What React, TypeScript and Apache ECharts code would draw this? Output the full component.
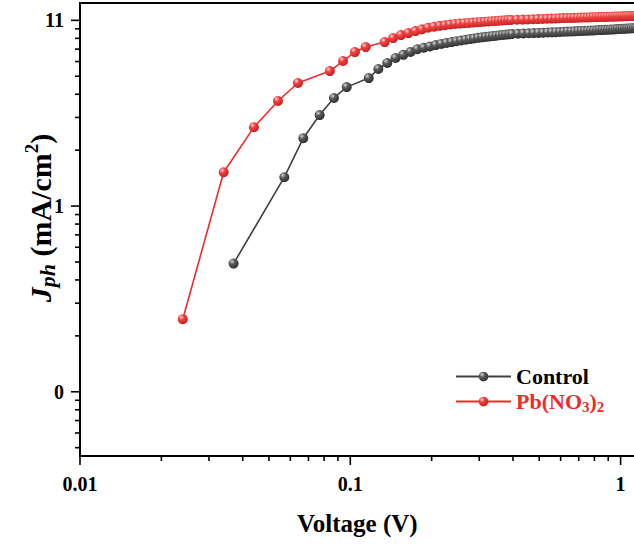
import { useEffect, useRef } from "react";
import * as echarts from "echarts";

// ---- data ----
const controlV = [
  0.037, 0.057, 0.067, 0.077, 0.087, 0.097, 0.117, 0.127, 0.137, 0.147, 0.157, 0.167, 0.177, 0.187,
  0.197, 0.207, 0.217, 0.227, 0.237, 0.247, 0.257, 0.267, 0.277, 0.287, 0.297, 0.307, 0.317, 0.327,
  0.337, 0.347, 0.357, 0.367, 0.377, 0.387, 0.397, 0.417, 0.437, 0.457, 0.477, 0.497, 0.517, 0.537,
  0.557, 0.577, 0.597, 0.617, 0.637, 0.657, 0.677, 0.697, 0.717, 0.737, 0.757, 0.777, 0.797, 0.817,
  0.837, 0.857, 0.877, 0.897, 0.917, 0.937, 0.957, 0.977, 0.997, 1.017, 1.037, 1.057, 1.077, 1.097,
  1.117, 1.137, 1.157, 1.177,
];
const controlJ = [
  0.49, 1.43, 2.32, 3.09, 3.82, 4.37, 4.89, 5.47, 5.89, 6.27, 6.52, 6.76, 6.99, 7.12,
  7.24, 7.36, 7.47, 7.56, 7.64, 7.72, 7.79, 7.86, 7.93, 7.99, 8.05, 8.1, 8.15, 8.19,
  8.23, 8.27, 8.31, 8.35, 8.38, 8.41, 8.44, 8.47, 8.5, 8.52, 8.54, 8.56, 8.58, 8.6,
  8.62, 8.64, 8.66, 8.68, 8.7, 8.72, 8.73, 8.75, 8.77, 8.78, 8.8, 8.81, 8.83, 8.85,
  8.86, 8.88, 8.89, 8.91, 8.92, 8.94, 8.95, 8.97, 8.98, 9.0, 9.01, 9.03, 9.04, 9.06,
  9.07, 9.08, 9.09, 9.1,
];
const pbV = [
  0.024, 0.034, 0.044, 0.054, 0.064, 0.084, 0.094, 0.104, 0.114, 0.134, 0.144, 0.154, 0.164, 0.174,
  0.184, 0.194, 0.204, 0.214, 0.224, 0.234, 0.244, 0.254, 0.264, 0.274, 0.284, 0.294, 0.304, 0.314,
  0.324, 0.334, 0.344, 0.354, 0.364, 0.374, 0.384, 0.394, 0.414, 0.434, 0.454, 0.474, 0.494, 0.514,
  0.534, 0.554, 0.574, 0.594, 0.614, 0.634, 0.654, 0.674, 0.694, 0.714, 0.734, 0.754, 0.774, 0.794,
  0.814, 0.834, 0.854, 0.874, 0.894, 0.914, 0.934, 0.954, 0.974, 0.994, 1.014, 1.034, 1.054, 1.074,
  1.094, 1.114, 1.134, 1.154, 1.174,
];
const pbJ = [
  0.246, 1.52, 2.66, 3.68, 4.6, 5.33, 6.04, 6.75, 7.18, 7.64, 8.03, 8.33, 8.54, 8.75,
  8.95, 9.12, 9.24, 9.34, 9.42, 9.5, 9.56, 9.61, 9.65, 9.69, 9.73, 9.77, 9.8, 9.83,
  9.86, 9.89, 9.92, 9.95, 9.98, 10.01, 10.03, 10.05, 10.08, 10.1, 10.12, 10.14, 10.16, 10.18,
  10.2, 10.22, 10.24, 10.26, 10.28, 10.29, 10.31, 10.32, 10.34, 10.35, 10.36, 10.37, 10.38, 10.39,
  10.4, 10.42, 10.43, 10.44, 10.45, 10.46, 10.47, 10.48, 10.49, 10.5, 10.51, 10.52, 10.53, 10.54,
  10.55, 10.56, 10.57, 10.58, 10.59,
];

const seriesNames = ["Control", "Pb(NO3)2"];
const xTitle = "Voltage (V)";

const xTickValues = [0.01, 0.1, 1];
const xTickLabels = ["0.01", "0.1", "1"];
const xMinorTicks = [0.02, 0.03, 0.04, 0.05, 0.06, 0.07, 0.08, 0.09, 0.2, 0.3, 0.4, 0.5, 0.6, 0.7, 0.8, 0.9];
const yTickValues = [0.1, 1, 10];
const yTickLabels = ["0", "1", "11"];
const yMinorTicks = [0.05, 0.06, 0.07, 0.08, 0.09, 0.2, 0.3, 0.4, 0.5, 0.6, 0.7, 0.8, 0.9, 2, 3, 4, 5, 6, 7, 8, 9];

const X_MIN = 0.01;
const X_MAX = 1.2;
const Y_MIN = 0.0451;
const Y_MAX = 12.4;

const FONT = "'Liberation Serif', 'Times New Roman', serif";

function labelFor(values: number[], labels: string[], v: number) {
  for (let i = 0; i < values.length; i++) {
    if (Math.abs(Math.log10(v) - Math.log10(values[i])) < 1e-6) return labels[i];
  }
  return "";
}

const zip = (a: number[], b: number[]) => a.map((v, i) => [v, b[i]]);

const grayBall = {
  type: "radial",
  x: 0.35,
  y: 0.3,
  r: 0.75,
  colorStops: [
    { offset: 0, color: "#d8d8d8" },
    { offset: 0.35, color: "#5c5c5c" },
    { offset: 1, color: "#2a2a2a" },
  ],
};
const redBall = {
  type: "radial",
  x: 0.35,
  y: 0.3,
  r: 0.75,
  colorStops: [
    { offset: 0, color: "#ffd6d6" },
    { offset: 0.35, color: "#f04444" },
    { offset: 1, color: "#c01c1c" },
  ],
};

export default function App() {
  const ref = useRef<HTMLDivElement>(null);
  useEffect(() => {
    const chart = echarts.init(ref.current!, null, { renderer: "svg" });

    const tickData: number[][] = [
      ...xTickValues.map((v) => [v, Y_MIN, 0, 1]),
      ...xMinorTicks.map((v) => [v, Y_MIN, 0, 0]),
      ...yTickValues.map((v) => [X_MIN, v, 1, 1]),
      ...yMinorTicks.map((v) => [X_MIN, v, 1, 0]),
    ];

    const option: any = {
      animation: false,
      backgroundColor: "#fff",
      grid: {
        left: 80,
        top: 3,
        right: -8,
        bottom: 89,
        containLabel: false,
        outerBoundsMode: "none",
        show: true,
        borderColor: "#000",
        borderWidth: 2,
        backgroundColor: "transparent",
      },
      legend: {
        orient: "vertical",
        left: 450,
        top: 359,
        itemWidth: 55,
        itemHeight: 12,
        itemGap: 0,
        data: [
          { name: seriesNames[0], textStyle: { color: "#000" } },
          { name: seriesNames[1], textStyle: { color: "#ee2a2a" } },
        ],
        formatter: (name: string) => (name === seriesNames[1] ? "Pb(NO{s|3}){s|2}" : name),
        textStyle: {
          fontFamily: FONT,
          fontWeight: "bold",
          fontSize: 22,
          lineHeight: 25,
          rich: {
            s: {
              fontFamily: FONT,
              fontWeight: "bold",
              fontSize: 15,
              lineHeight: 12,
              verticalAlign: "bottom",
            },
          },
        },
      },
      xAxis: {
        type: "log",
        logBase: 10,
        min: X_MIN,
        max: X_MAX,
        splitLine: { show: false },
        axisTick: { show: false },
        axisLine: { show: true, lineStyle: { color: "#000", width: 2 } },
        axisLabel: {
          margin: 18,
          color: "#000",
          fontFamily: FONT,
          fontWeight: "bold",
          fontSize: 20,
          formatter: (v: number) => labelFor(xTickValues, xTickLabels, v),
        },
      },
      yAxis: {
        type: "log",
        logBase: 10,
        min: Y_MIN,
        max: Y_MAX,
        splitLine: { show: false },
        axisTick: { show: false },
        axisLine: { show: true, lineStyle: { color: "#000", width: 2 } },
        axisLabel: {
          margin: 16,
          color: "#000",
          fontFamily: FONT,
          fontWeight: "bold",
          fontSize: 20,
          formatter: (v: number) => labelFor(yTickValues, yTickLabels, v),
        },
      },
      graphic: [
        {
          type: "text",
          left: 297,
          bottom: 9,
          style: {
            text: xTitle,
            fill: "#000",
            font: `bold 25px ${FONT}`,
          },
        },
        {
          type: "text",
          x: 40,
          y: 218,
          rotation: Math.PI / 2,
          style: {
            text: "{j|J}{p|ph} (mA/cm{s|2})",
            align: "center",
            verticalAlign: "middle",
            fill: "#000",
            font: `bold 30px ${FONT}`,
            rich: {
              j: { fontFamily: FONT, fontWeight: "bold", fontStyle: "italic", fontSize: 30, lineHeight: 36 },
              p: {
                fontFamily: FONT,
                fontWeight: "bold",
                fontStyle: "italic",
                fontSize: 22,
                lineHeight: 21,
                verticalAlign: "bottom",
              },
              s: { fontFamily: FONT, fontWeight: "bold", fontSize: 19, lineHeight: 19, verticalAlign: "top" },
            },
          },
        },
      ],
      series: [
        {
          name: seriesNames[0],
          type: "line",
          data: zip(controlV, controlJ),
          symbol: "circle",
          symbolSize: 10,
          showSymbol: true,
          itemStyle: { color: grayBall },
          lineStyle: { color: "#404040", width: 1.6 },
          z: 2,
        },
        {
          name: seriesNames[1],
          type: "line",
          data: zip(pbV, pbJ),
          symbol: "circle",
          symbolSize: 10,
          showSymbol: true,
          itemStyle: { color: redBall },
          lineStyle: { color: "#ee2a2a", width: 1.6 },
          z: 3,
        },
        {
          name: "ticks",
          type: "custom",
          clip: false,
          silent: true,
          encode: { x: 0, y: 1 },
          data: tickData,
          z: 10,
          renderItem: (_params: any, api: any) => {
            const p = api.coord([api.value(0), api.value(1)]);
            const isY = api.value(2) === 1;
            const len = api.value(3) === 1 ? 9 : 5;
            const shape = isY
              ? { x1: p[0] - len, y1: p[1], x2: p[0], y2: p[1] }
              : { x1: p[0], y1: p[1], x2: p[0], y2: p[1] + len };
            return { type: "line", shape, style: { stroke: "#000", lineWidth: 1.6 } };
          },
        },
      ],
    };

    chart.setOption(option);
    return () => chart.dispose();
  }, []);

  return (
    <div
      ref={ref}
      style={{ position: "absolute", left: 0, top: 0, width: 634, height: 545, background: "#fff" }}
    />
  );
}
